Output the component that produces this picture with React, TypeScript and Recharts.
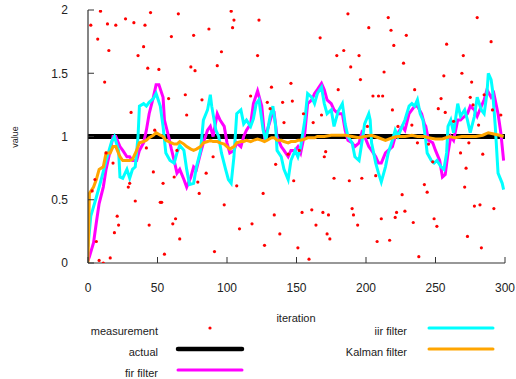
import React from 'react';
import { ComposedChart, Line, Scatter, XAxis, YAxis } from 'recharts';

const measurement: [number, number][] = [
  [2,1.88],[3,0.57],[5,0.66],[6,0.17],[7,1.77],[8,0.02],[9,1.99],[11,0.0],[12,1.43],[13,0.87],[14,1.89],[15,1.68],[16,0.04],[18,0.79],[19,0.24],[20,1.88],[21,0.37],[22,0.30],[27,1.93],[29,0.60],[30,0.63],[31,1.19],[33,1.90],[34,0.49],[36,1.64],[40,1.71],[41,1.88],[42,0.91],[43,1.54],[44,0.30],[45,1.98],[47,0.72],[48,1.05],[51,1.53],[52,0.48],[53,0.48],[54,0.63],[55,0.07],[58,1.30],[60,1.79],[61,0.31],[62,0.68],[63,0.35],[64,0.89],[65,1.97],[66,0.19],[70,1.33],[71,1.17],[74,1.55],[76,1.80],[77,1.52],[79,0.64],[80,0.55],[82,1.29],[85,0.71],[87,1.85],[90,0.84],[91,0.09],[93,1.56],[96,1.67],[98,0.46],[103,1.99],[104,1.86],[105,1.92],[107,0.61],[109,0.27],[117,1.32],[118,0.31],[122,1.64],[123,1.92],[126,0.55],[127,0.14],[129,1.27],[131,1.22],[132,1.39],[134,0.38],[135,0.78],[138,0.23],[140,1.27],[141,1.11],[144,0.86],[146,1.42],[147,1.28],[148,0.65],[151,0.12],[152,0.89],[154,0.40],[155,1.18],[159,0.03],[161,0.42],[162,1.11],[164,0.30],[167,1.78],[168,1.17],[169,0.40],[170,0.84],[171,0.88],[172,0.23],[173,0.38],[174,0.19],[177,0.67],[179,1.64],[180,1.37],[184,1.68],[187,1.97],[188,0.65],[189,1.55],[190,0.43],[191,0.38],[194,0.30],[195,1.64],[196,1.45],[197,0.67],[201,1.08],[202,1.86],[205,1.32],[207,0.69],[208,0.17],[209,1.32],[211,0.35],[212,1.32],[213,1.51],[216,1.94],[217,0.18],[218,1.84],[219,1.21],[220,1.72],[221,0.36],[222,0.40],[223,1.08],[226,0.54],[227,1.58],[228,0.41],[229,1.80],[233,1.09],[234,0.32],[235,1.37],[237,0.95],[238,0.05],[242,0.62],[244,0.56],[245,0.94],[248,0.80],[249,0.35],[251,0.29],[252,1.22],[254,1.30],[256,1.48],[257,1.19],[258,1.73],[263,1.12],[268,0.87],[269,1.50],[270,1.64],[271,0.60],[272,0.75],[273,0.21],[274,0.95],[275,1.31],[276,1.43],[277,1.25],[278,0.45],[280,1.94],[281,1.09],[282,0.46],[283,0.12],[284,0.86],[285,1.33],[290,1.75],[291,1.21],[292,0.43],[297,1.17]
];

const actual: [number, number][] = [[0,1],[300,1]];

const firFilter: [number, number][] = [
  [0,0.02],[1,0.05],[4,0.16],[6,0.32],[8,0.47],[11,0.60],[13,0.74],[16,0.89],[18,1.0],[20,1.0],[23,0.92],[25,0.89],[28,0.84],[30,0.84],[32,0.81],[35,0.81],[37,0.89],[40,0.95],[42,1.05],[44,1.18],[47,1.31],[49,1.41],[51,1.41],[54,1.31],[55,1.13],[58,1.0],[60,0.90],[62,0.81],[64,0.71],[66,0.74],[69,0.66],[71,0.60],[74,0.68],[76,0.76],[78,0.74],[81,0.87],[83,0.95],[86,1.05],[88,1.08],[90,1.0],[93,1.18],[95,1.13],[98,1.08],[100,0.95],[102,0.87],[105,0.89],[107,0.95],[110,0.92],[112,1.0],[114,1.05],[117,1.10],[119,1.26],[122,1.36],[125,1.24],[127,1.0],[129,1.05],[132,1.16],[134,1.18],[136,1.0],[139,0.92],[141,0.89],[144,0.84],[146,0.89],[149,0.89],[151,0.92],[153,0.87],[156,1.03],[158,1.26],[161,1.29],[163,1.34],[165,1.37],[168,1.42],[170,1.37],[172,1.29],[175,1.26],[177,1.21],[180,1.18],[183,1.18],[185,1.05],[187,0.97],[190,0.95],[192,0.92],[195,0.95],[197,1.03],[199,1.0],[202,0.92],[204,0.89],[207,0.84],[209,0.79],[211,0.79],[214,0.87],[216,0.89],[219,0.92],[221,1.0],[223,1.03],[226,1.08],[228,1.05],[231,1.18],[233,1.21],[235,1.24],[237,1.24],[240,1.18],[242,1.10],[243,1.08],[245,0.97],[248,0.95],[250,0.89],[253,0.81],[255,0.68],[257,0.70],[259,0.87],[261,1.0],[263,0.97],[266,1.13],[268,1.13],[271,1.16],[273,1.18],[275,1.24],[278,1.21],[280,1.16],[283,1.24],[285,1.29],[287,1.37],[290,1.31],[292,1.34],[295,1.18],[297,1.03],[299,0.81]
];

const iirFilter: [number, number][] = [
  [0,0.13],[2,0.37],[6,0.52],[10,0.68],[13,0.81],[17,0.96],[19,1.0],[22,0.89],[23,0.68],[25,0.67],[28,0.74],[30,0.67],[32,0.74],[34,0.76],[36,1.0],[37,1.24],[40,1.26],[42,1.24],[44,1.27],[47,1.30],[49,1.34],[52,1.24],[54,1.08],[56,0.87],[59,0.81],[62,0.79],[64,0.87],[66,0.93],[69,0.89],[71,0.74],[73,0.62],[76,0.63],[78,0.76],[81,0.89],[83,1.13],[86,1.21],[88,1.33],[89,1.24],[92,1.05],[94,1.0],[96,0.87],[99,0.74],[101,0.66],[103,0.63],[105,0.84],[107,1.18],[110,1.21],[112,1.10],[114,1.13],[117,1.08],[119,1.14],[121,1.26],[123,1.29],[126,1.05],[128,0.97],[131,1.16],[133,1.24],[135,1.08],[136,0.89],[139,0.84],[141,0.74],[144,0.66],[146,0.81],[149,0.89],[151,0.84],[153,0.92],[156,1.13],[158,1.34],[161,1.31],[163,1.26],[165,1.34],[168,1.39],[170,1.26],[172,1.18],[175,1.21],[177,1.08],[180,1.2],[183,1.26],[185,1.10],[187,1.0],[190,0.95],[192,0.84],[195,0.81],[197,0.95],[199,1.10],[202,1.18],[203,1.13],[204,0.95],[207,0.79],[209,0.71],[211,0.64],[214,0.76],[216,0.87],[219,0.97],[221,1.05],[223,1.0],[226,1.08],[228,1.13],[231,1.24],[233,1.26],[235,1.24],[237,1.29],[239,1.18],[241,1.13],[243,0.97],[244,0.87],[247,0.81],[249,0.79],[251,0.81],[254,0.76],[256,0.74],[258,0.87],[259,1.08],[261,1.13],[263,1.03],[266,1.26],[268,1.16],[271,1.21],[273,1.13],[275,1.03],[278,1.16],[280,1.31],[283,1.21],[285,1.18],[287,1.34],[288,1.50],[290,1.45],[291,1.37],[293,1.08],[295,0.71],[298,0.63],[299,0.58]
];

const kalmanFilter: [number, number][] = [
  [0,0],[1,0.55],[4,0.60],[6,0.66],[8,0.74],[11,0.76],[13,0.87],[16,0.87],[18,0.92],[20,0.92],[23,0.84],[25,0.81],[28,0.81],[30,0.81],[32,0.82],[35,0.89],[37,0.95],[40,0.96],[42,0.97],[44,0.99],[47,1.01],[49,1.03],[52,1.01],[54,1.0],[56,0.97],[60,0.95],[62,0.94],[64,0.94],[66,0.96],[69,0.94],[71,0.92],[74,0.90],[76,0.89],[78,0.90],[81,0.92],[83,0.95],[86,0.96],[88,0.97],[90,0.96],[93,0.96],[95,0.95],[98,0.94],[100,0.92],[102,0.90],[105,0.92],[107,0.95],[110,0.96],[112,0.96],[114,0.97],[117,0.96],[119,0.97],[122,0.98],[125,0.97],[127,0.96],[129,0.97],[132,0.99],[134,0.99],[136,0.97],[139,0.97],[141,0.96],[144,0.95],[146,0.96],[149,0.96],[151,0.97],[153,0.97],[156,0.98],[158,0.99],[161,0.99],[163,0.99],[165,1.0],[170,1.0],[175,1.01],[180,1.01],[185,1.01],[190,1.0],[195,0.99],[199,1.0],[204,1.01],[209,0.99],[214,0.97],[219,0.99],[223,1.0],[228,1.0],[233,1.01],[237,1.0],[242,1.0],[245,0.99],[250,0.98],[255,0.98],[260,1.0],[264,0.99],[269,1.0],[274,1.0],[279,1.0],[284,1.01],[288,1.03],[292,1.02],[296,1.01],[299,1.0]
];

const xTicks = [0, 50, 100, 150, 200, 250, 300];
const yTicks = [0, 0.5, 1, 1.5, 2];
const xTitle = 'iteration';
const yTitle = 'value';

const seriesNames = ['measurement', 'actual', 'fir filter', 'iir filter', 'Kalman filter'];
const seriesColors = ['#ff0000', '#000000', '#ff00ff', '#00ffff', '#ffa500'];

const toPts = (arr: [number, number][]) => arr.map(([x, y]) => ({ x, y }));

const FONT = '"Liberation Sans", Arial, sans-serif';
const AX = '#333333';

const Dot = (props: any) => {
  const { cx, cy } = props;
  if (cx == null || cy == null) return <g />;
  return <circle cx={cx} cy={cy} r={1.6} fill={seriesColors[0]} />;
};

const Legend = () => {
  const rows = [
    { i: 0, tx: 158, lx: 178, y: 331 },
    { i: 1, tx: 158, lx: 178, y: 352 },
    { i: 2, tx: 158, lx: 178, y: 373 },
    { i: 3, tx: 407, lx: 429, y: 331 },
    { i: 4, tx: 407, lx: 429, y: 352 },
  ];
  return (
    <svg width={516} height={379} style={{ position: 'absolute', left: 0, top: 0, pointerEvents: 'none' }}>
      <text x={15} y={137} transform="rotate(-90 15 137)" textAnchor="middle" dominantBaseline="central" fontFamily={FONT} fontSize={9} fill="#222">{yTitle}</text>
      <text x={296} y={318} textAnchor="middle" dominantBaseline="central" fontFamily={FONT} fontSize={11} fill="#222">{xTitle}</text>
      {rows.map((r) => (
        <g key={r.i}>
          <text x={r.tx} y={r.y} textAnchor="end" dominantBaseline="central" fontFamily={FONT} fontSize={11} fill="#222">{seriesNames[r.i]}</text>
          {r.i === 0 ? (
            <circle cx={210} cy={r.y - 3} r={1.6} fill={seriesColors[0]} />
          ) : (
            <line x1={r.lx} x2={r.lx + 64} y1={r.y - 3} y2={r.y - 3} stroke={seriesColors[r.i]} strokeWidth={r.i === 1 ? 4.5 : 3} strokeLinecap="round" />
          )}
        </g>
      ))}
    </svg>
  );
};

export default function App() {
  const tickStyle = { fontFamily: FONT, fontSize: 12, fill: '#222' };
  return (
    <div style={{ position: 'absolute', left: 0, top: 0, width: 516, height: 379, background: '#fff' }}>
      <ComposedChart width={516} height={379} margin={{ top: 10, right: 11, bottom: 86, left: 8 }}>
        <XAxis xAxisId="b" type="number" dataKey="x" domain={[0, 300]} ticks={xTicks} allowDataOverflow
          height={30} tickSize={-6} tickMargin={26} axisLine={{ stroke: AX, strokeWidth: 1.2 }} tickLine={{ stroke: AX }} tick={tickStyle} interval={0} />
        <XAxis xAxisId="t" orientation="top" type="number" dataKey="x" domain={[0, 300]} ticks={xTicks} allowDataOverflow
          height={0} tickSize={-6} axisLine={{ stroke: AX, strokeWidth: 1.2 }} tickLine={{ stroke: AX }} tick={false} interval={0} />
        <YAxis yAxisId="l" type="number" dataKey="y" domain={[0, 2]} ticks={yTicks} allowDataOverflow
          width={80} tickSize={-6} tickMargin={26} axisLine={{ stroke: AX, strokeWidth: 1.2 }} tickLine={{ stroke: AX }} tick={tickStyle} interval={0} />
        <YAxis yAxisId="r" orientation="right" type="number" dataKey="y" domain={[0, 2]} ticks={yTicks} allowDataOverflow
          width={0} tickSize={-6} axisLine={{ stroke: AX, strokeWidth: 1.2 }} tickLine={{ stroke: AX }} tick={false} interval={0} />
        <Scatter xAxisId="b" yAxisId="l" name={seriesNames[0]} data={toPts(measurement)} dataKey="y" shape={<Dot />} isAnimationActive={false} />
        <Line xAxisId="b" yAxisId="l" name={seriesNames[1]} data={toPts(actual)} dataKey="y" type="linear" stroke={seriesColors[1]} strokeWidth={5} dot={false} activeDot={false} isAnimationActive={false} />
        <Line xAxisId="b" yAxisId="l" name={seriesNames[2]} data={toPts(firFilter)} dataKey="y" type="linear" stroke={seriesColors[2]} strokeWidth={3} dot={false} activeDot={false} isAnimationActive={false} />
        <Line xAxisId="b" yAxisId="l" name={seriesNames[3]} data={toPts(iirFilter)} dataKey="y" type="linear" stroke={seriesColors[3]} strokeWidth={3} dot={false} activeDot={false} isAnimationActive={false} />
        <Line xAxisId="b" yAxisId="l" name={seriesNames[4]} data={toPts(kalmanFilter)} dataKey="y" type="linear" stroke={seriesColors[4]} strokeWidth={3} dot={false} activeDot={false} isAnimationActive={false} />
      </ComposedChart>
      <Legend />
    </div>
  );
}
